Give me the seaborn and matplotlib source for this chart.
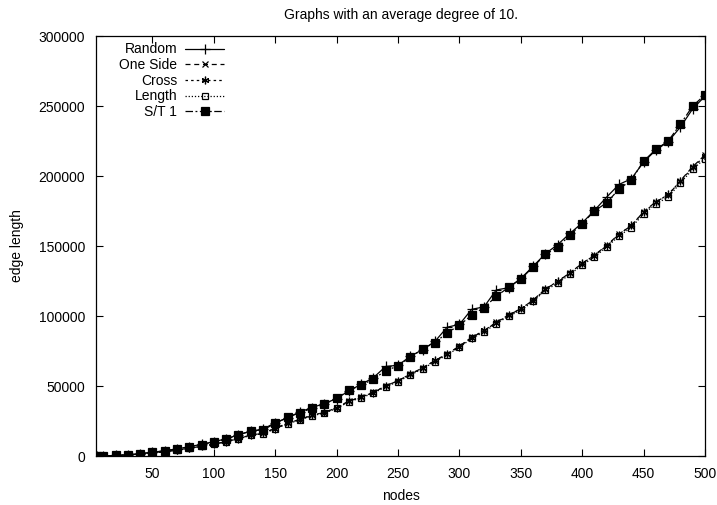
import numpy as np
import pandas as pd
import matplotlib
matplotlib.use("Agg")
import matplotlib.pyplot as plt
import seaborn as sns

nodes = [5, 10, 20, 30, 40, 50, 60, 70, 80, 90, 100, 110, 120, 130, 140, 150, 160, 170, 180, 190,
         200, 210, 220, 230, 240, 250, 260, 270, 280, 290, 300, 310, 320, 330, 340, 350, 360, 370,
         380, 390, 400, 410, 420, 430, 440, 450, 460, 470, 480, 490, 500]

random_k = [0.03, 0.1, 0.4, 0.9, 1.7, 2.6, 3.8, 5.1, 6.6, 8.4, 10.2, 12.3, 15.2, 17.6, 19.2, 23.8,
            27.2, 31.5, 34.6, 37.5, 41.0, 46.6, 51.2, 56.0, 64.0, 64.8, 71.2, 76.0, 81.8, 92.0,
            94.0, 104.8, 106.5, 118.6, 120.2, 126.8, 135.5, 144.5, 151.0, 159.0, 166.5, 175.5,
            185.0, 194.0, 198.0, 210.0, 218.5, 224.5, 235.0, 248.0, 257.0]

one_side_k = [0.02, 0.08, 0.35, 0.8, 1.4, 2.2, 3.1, 4.2, 5.5, 7.0, 8.5, 10.2, 12.5, 15.0, 16.2,
              19.8, 23.5, 26.0, 29.3, 31.0, 34.5, 39.3, 42.0, 45.5, 50.0, 53.8, 58.4, 63.0, 68.0,
              73.0, 78.5, 84.8, 89.3, 95.5, 100.7, 105.0, 111.4, 119.3, 124.5, 131.0, 137.5,
              143.5, 150.5, 158.6, 164.5, 174.5, 181.6, 186.4, 196.7, 206.7, 215.0]

cross_k = [0.02, 0.08, 0.34, 0.8, 1.4, 2.2, 3.1, 4.3, 5.4, 7.1, 8.4, 10.3, 12.4, 14.8, 16.4,
           19.6, 23.3, 26.2, 29.0, 31.3, 34.3, 39.0, 42.3, 45.2, 50.3, 53.5, 58.7, 62.6, 68.3,
           72.7, 78.2, 84.5, 89.7, 95.2, 100.4, 105.4, 111.0, 119.0, 124.9, 130.6, 137.8,
           143.2, 150.2, 158.2, 164.9, 174.1, 181.2, 186.8, 196.3, 206.2, 214.3]

length_k = [0.02, 0.08, 0.34, 0.79, 1.4, 2.1, 3.0, 4.1, 5.4, 6.9, 8.3, 10.0, 12.2, 14.7, 15.9,
            19.4, 23.0, 25.7, 28.8, 30.6, 34.0, 38.8, 41.5, 45.0, 49.4, 53.1, 57.8, 62.3, 67.3,
            72.3, 77.6, 84.0, 88.5, 94.6, 99.8, 104.1, 110.4, 118.3, 123.4, 129.8, 136.3,
            142.3, 149.2, 157.2, 163.2, 173.0, 180.0, 184.9, 195.0, 204.8, 212.5]

st1_k = [0.03, 0.1, 0.4, 0.9, 1.7, 2.6, 3.7, 5.0, 6.5, 8.2, 10.0, 11.9, 15.0, 18.0, 18.6, 23.3,
         27.6, 31.0, 34.0, 36.9, 41.4, 47.0, 50.5, 55.0, 61.0, 64.3, 70.5, 76.4, 81.0, 88.0,
         93.3, 100.7, 106.0, 114.0, 120.5, 126.4, 135.0, 144.0, 149.0, 157.9, 166.0, 175.0,
         181.0, 190.7, 197.0, 210.7, 219.0, 225.0, 237.0, 250.0, 258.0]

series_names = ["Random", "One Side", "Cross", "Length", "S/T 1"]
series_vals = [random_k, one_side_k, cross_k, length_k, st1_k]

sns.set_style("ticks")
plt.rcParams["font.family"] = ["Liberation Sans", "DejaVu Sans"]
plt.rcParams["font.size"] = 10
for k in ["text.color", "axes.labelcolor", "xtick.color", "ytick.color", "axes.edgecolor"]:
    plt.rcParams[k] = "black"

fig = plt.figure(figsize=(7.17, 5.05), dpi=100)
ax = fig.add_axes([96 / 717, 1 - 456 / 505, (705 - 96) / 717, (456 - 36) / 505])

styles = {
    "Random": dict(linestyle="-", marker="+", markersize=7, mfc="black"),
    "One Side": dict(linestyle=(0, (4, 3)), marker="x", markersize=4.5, mfc="black"),
    "Cross": dict(linestyle=(0, (2, 2.5)), marker=(6, 2, 0), markersize=5.5, mfc="black"),
    "Length": dict(linestyle=(0, (1, 1.5)), marker="s", markersize=5, mfc="none"),
    "S/T 1": dict(linestyle=(0, (6, 2, 1.5, 2)), marker="s", markersize=5.5, mfc="black"),
}

for name, vals in zip(series_names, series_vals):
    df = pd.DataFrame({"nodes": nodes, "edge length": np.array(vals) * 1000})
    st = styles[name]
    sns.lineplot(data=df, x="nodes", y="edge length", ax=ax, color="black", linewidth=0.9,
                 linestyle=st["linestyle"], marker=st["marker"], markersize=st["markersize"],
                 markerfacecolor=st["mfc"], markeredgecolor="black", markeredgewidth=0.9,
                 label=name)

ax.set_xlim(4, 500)
ax.set_ylim(0, 300000)
ax.set_xticks([50, 100, 150, 200, 250, 300, 350, 400, 450, 500])
ax.set_yticks([0, 50000, 100000, 150000, 200000, 250000, 300000])
ax.tick_params(direction="in", top=True, right=True, length=5, width=0.8, labelsize=10, pad=8,
               colors="black")
for sp in ax.spines.values():
    sp.set_linewidth(0.9)
    sp.set_color("black")

ax.set_xlabel("nodes", fontsize=10, labelpad=6)
ax.set_ylabel("edge length", fontsize=10, labelpad=10)
ax.set_title("Graphs with an average degree of 10.", fontsize=10, pad=12)

leg = ax.legend(loc="upper left", bbox_to_anchor=(0.022, 1.008), markerfirst=False, frameon=False,
                handlelength=2.8, handletextpad=0.6, labelspacing=0.12, borderaxespad=0.3,
                fontsize=10)

fig.savefig("out.png", dpi=100)
